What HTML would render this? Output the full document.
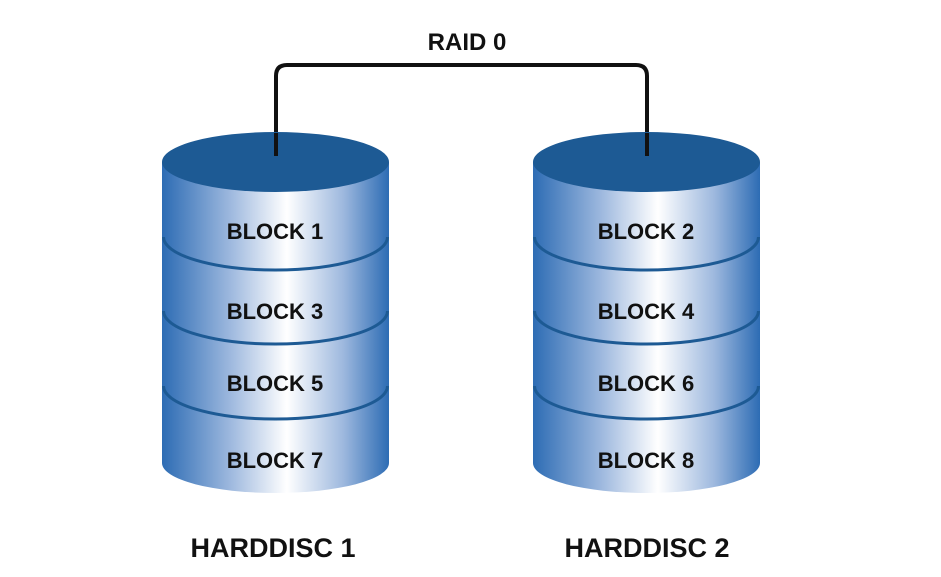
<!DOCTYPE html>
<html><head><style>body{margin:0;background:#fff}svg{display:block}</style></head><body>
<svg width="941" height="577" viewBox="0 0 941 577" xmlns="http://www.w3.org/2000/svg">
<defs>
<linearGradient id="g" x1="0" x2="1" y1="0" y2="0">
<stop offset="0" stop-color="#2d6cb4"/>
<stop offset="0.3" stop-color="#9db8de"/>
<stop offset="0.55" stop-color="#ffffff"/>
<stop offset="0.8" stop-color="#9db8de"/>
<stop offset="1" stop-color="#2d6cb4"/>
</linearGradient>
</defs>
<g font-family="Liberation Sans, sans-serif" font-weight="bold">
<text x="467" y="50" font-size="24" text-anchor="middle" fill="#111">RAID 0</text>
<path d="M276 156 V76 Q276 65 287 65 H636 Q647 65 647 76 V156" fill="none" stroke="#111" stroke-width="4"/>
<g id="c1">
<path d="M162 162 V463 A113.5 30 0 0 0 389 463 V162 Z" fill="url(#g)"/>
<path d="M163.5 237 A112 33 0 0 0 387.5 237 M163.5 311 A112 33 0 0 0 387.5 311 M163.5 386 A112 33 0 0 0 387.5 386" fill="none" stroke="#1d5a94" stroke-width="3"/>
<ellipse cx="275.5" cy="162" rx="113.5" ry="30" fill="#1d5a94"/>
</g>
<use href="#c1" x="371"/>
<path d="M276 156 V133" stroke="#111" stroke-width="4"/>
<path d="M647 156 V133" stroke="#111" stroke-width="4"/>
<g font-size="22" text-anchor="middle" fill="#111">
<text x="275" y="239">BLOCK 1</text><text x="275" y="319">BLOCK 3</text><text x="275" y="391">BLOCK 5</text><text x="275" y="468">BLOCK 7</text>
<text x="646" y="239">BLOCK 2</text><text x="646" y="319">BLOCK 4</text><text x="646" y="391">BLOCK 6</text><text x="646" y="468">BLOCK 8</text>
</g>
<text x="273" y="557" font-size="27" text-anchor="middle" fill="#111">HARDDISC 1</text>
<text x="647" y="557" font-size="27" text-anchor="middle" fill="#111">HARDDISC 2</text>
</g>
</svg>
</body></html>
